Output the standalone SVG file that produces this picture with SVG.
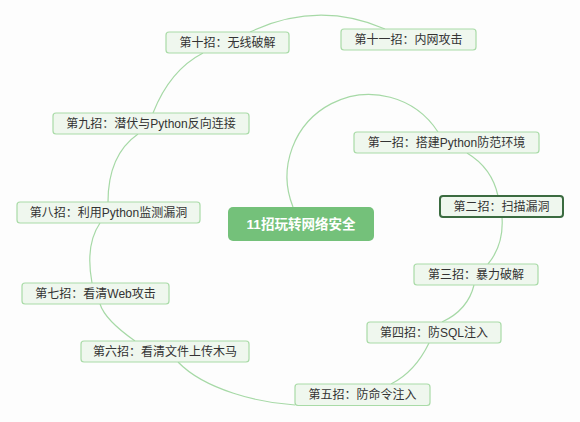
<svg xmlns="http://www.w3.org/2000/svg" width="580" height="422" viewBox="0 0 580 422">
<style>
.bg{fill:#fdfdfd}
.link{fill:none;stroke:#a6d9a6;stroke-width:1.2}
.node rect{fill:#eff7ee;stroke:#a9dba7;stroke-width:1.2}
.node text{font-family:"Liberation Sans","Noto Sans CJK SC",sans-serif;font-size:12px;fill:#333;text-anchor:middle}
#n2 rect{stroke:#3b6b40;stroke-width:2}
#root rect{fill:#74c17a;stroke:none}
#root text{font-family:"Liberation Sans","Noto Sans CJK SC",sans-serif;font-size:13.5px;fill:#fff;text-anchor:middle;font-weight:bold}
</style>
<rect class="bg" x="0" y="0" width="580" height="422"/>
<g id="connectors">
<path class="link" d="M293,207 A82,82 0 0 1 438,132"/>
<path class="link" d="M467,153 Q492,168 498,196"/>
<path class="link" d="M502,217 Q504,245 488,264"/>
<path class="link" d="M474,285 Q468,310 442,322"/>
<path class="link" d="M429,343 Q415,372 391,384"/>
<path class="link" d="M295,405 C260,403 205,390 178,362"/>
<path class="link" d="M135,341 Q105,320 100,304"/>
<path class="link" d="M92,283 Q85,245 100,223"/>
<path class="link" d="M108,202 Q108,155 138,134"/>
<path class="link" d="M153,113 Q170,70 203,53"/>
<path class="link" d="M250,32 Q318,0 385,29"/>
</g>
<g id="root"><rect x="228" y="207" width="146" height="34" rx="5"/><text x="301" y="229">11招玩转网络安全</text></g>
<g id="n1" class="node"><rect x="354" y="132" width="185" height="21" rx="3"/><text x="446.5" y="147">第一招：搭建Python防范环境</text></g>
<g id="n2" class="node"><rect x="440" y="196" width="123" height="21" rx="3"/><text x="501.5" y="211">第二招：扫描漏洞</text></g>
<g id="n3" class="node"><rect x="414" y="264" width="124" height="21" rx="3"/><text x="476" y="279">第三招：暴力破解</text></g>
<g id="n4" class="node"><rect x="367" y="322" width="134" height="21" rx="3"/><text x="434" y="337">第四招：防SQL注入</text></g>
<g id="n5" class="node"><rect x="295" y="384" width="135" height="21.5" rx="3"/><text x="362.5" y="399">第五招：防命令注入</text></g>
<g id="n6" class="node"><rect x="81" y="341" width="168" height="21" rx="3"/><text x="165" y="356">第六招：看清文件上传木马</text></g>
<g id="n7" class="node"><rect x="22" y="283" width="147" height="21" rx="3"/><text x="95.5" y="298">第七招：看清Web攻击</text></g>
<g id="n8" class="node"><rect x="17" y="202" width="183" height="21" rx="3"/><text x="108.5" y="217">第八招：利用Python监测漏洞</text></g>
<g id="n9" class="node"><rect x="53" y="113" width="196" height="21" rx="3"/><text x="151" y="128">第九招：潜伏与Python反向连接</text></g>
<g id="n10" class="node"><rect x="166" y="32" width="123" height="21" rx="3"/><text x="227.5" y="47">第十招：无线破解</text></g>
<g id="n11" class="node"><rect x="341" y="29" width="135" height="21" rx="3"/><text x="408.5" y="44">第十一招：内网攻击</text></g>
</svg>
